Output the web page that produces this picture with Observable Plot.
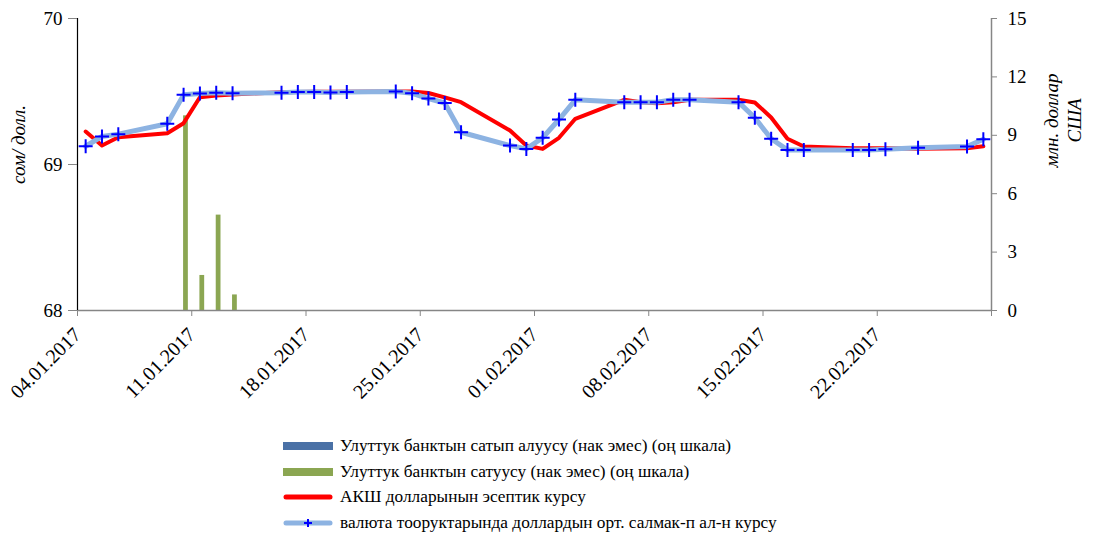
<!DOCTYPE html>
<html><head><meta charset="utf-8">
<script src="https://cdn.jsdelivr.net/npm/d3@7"></script>
<script src="https://cdn.jsdelivr.net/npm/@observablehq/plot@0.6"></script>
<style>
body{margin:0;background:#fff;font-family:"Liberation Serif","Times New Roman",serif;}
#chart{position:relative;width:1094px;height:538px;overflow:hidden;}
#legend{position:absolute;left:283px;top:433px;}
.row{display:flex;align-items:center;height:25.7px;font-size:17.3px;color:#000;white-space:nowrap;}
.row svg{margin-right:7px;flex:none;}
</style></head>
<body>
<div id="chart"><div id="plot"></div><div id="legend"></div></div>
<script>
// ---- data ----
const dates = ["04.01.2017","05.01.2017","06.01.2017","09.01.2017","10.01.2017","11.01.2017","12.01.2017","13.01.2017",
"16.01.2017","17.01.2017","18.01.2017","19.01.2017","20.01.2017","23.01.2017","24.01.2017","25.01.2017","26.01.2017","27.01.2017",
"30.01.2017","31.01.2017","01.02.2017","02.02.2017","03.02.2017","06.02.2017","07.02.2017","08.02.2017","09.02.2017","10.02.2017",
"13.02.2017","14.02.2017","15.02.2017","16.02.2017","17.02.2017","20.02.2017","21.02.2017","22.02.2017","24.02.2017","27.02.2017","28.02.2017"];
const officialRate = [69.226,69.130,69.187,69.214,69.283,69.461,69.473,69.480,
69.495,69.497,69.498,69.498,69.498,69.500,69.500,69.490,69.460,69.427,
69.233,69.130,69.107,69.183,69.313,69.443,69.427,69.420,69.427,69.443,
69.443,69.425,69.322,69.176,69.123,69.112,69.112,69.112,69.108,69.112,69.125];
const marketRate = [69.125,69.192,69.208,69.279,69.477,69.486,69.491,69.488,
69.491,69.497,69.497,69.493,69.497,69.500,69.488,69.452,69.421,69.221,
69.130,69.107,69.183,69.308,69.443,69.427,69.427,69.427,69.443,69.443,
69.427,69.320,69.176,69.100,69.100,69.100,69.100,69.105,69.114,69.123,69.173];
const interventionDates = ["10.01.2017","11.01.2017","12.01.2017","13.01.2017"];
const nbPurchase = [0,0,0,0];
const nbSale = [10.0,1.8,4.9,0.8];
const xTickLabels = ["04.01.2017","11.01.2017","18.01.2017","25.01.2017","01.02.2017","08.02.2017","15.02.2017","22.02.2017","01.03.2017"];
const leftTicks = [68,69,70];
const rightTicks = [0,3,6,9,12,15];
const leftDomain = [68,70];
const rightDomain = [0,15];
const seriesNames = ["Улуттук банктын сатып алуусу (нак эмес) (оң шкала)","Улуттук банктын сатуусу (нак эмес) (оң шкала)","АКШ долларынын эсептик курсу","валюта тооруктарында доллардын орт. салмак-п ал-н курсу"];
const colors = {purchase:"#4A71A6", sale:"#8BA652", official:"#FF0000", market:"#8DB3E2", marker:"#0000FF", axis:"#868686"};

// ---- helpers ----
const parse = s => { const [d,m,y] = s.split(".").map(Number); return new Date(Date.UTC(y, m-1, d)); };
const H = 3600*1000;
const toLeft = v => leftDomain[0] + (v - rightDomain[0]) * (leftDomain[1]-leftDomain[0]) / (rightDomain[1]-rightDomain[0]);
const lines = dates.map((d,i) => ({date: new Date(parse(d).getTime() + 12*H), official: officialRate[i], market: marketRate[i]}));
const sales = interventionDates.map((d,i) => ({d: parse(d), v: nbSale[i]}));
const buys = interventionDates.map((d,i) => ({d: parse(d), v: nbPurchase[i]}));
const xTicks = xTickLabels.map(parse);
const xDomain = [xTicks[0], xTicks[xTicks.length-1]];
const plusSymbol = {draw(ctx, size){ const s = Math.sqrt(size/Math.PI); ctx.moveTo(-s,0); ctx.lineTo(s,0); ctx.moveTo(0,-s); ctx.lineTo(0,s);} };

const chart = Plot.plot({
  width: 1094, height: 425,
  marginLeft: 77, marginRight: 103, marginTop: 18, marginBottom: 115,
  style: {fontFamily: '"Liberation Serif","Times New Roman",serif', fontSize: "19px", color: "#000", background: "#fff", overflow: "visible"},
  x: {type: "utc", domain: xDomain},
  y: {domain: leftDomain},
  marks: [
    Plot.rect(buys, {x1: d => new Date(d.d.getTime()+5*H), x2: d => new Date(d.d.getTime()+12*H), y1: leftDomain[0], y2: d => toLeft(d.v), fill: colors.purchase}),
    Plot.rect(sales, {x1: d => new Date(d.d.getTime()+12*H), x2: d => new Date(d.d.getTime()+19*H), y1: leftDomain[0], y2: d => toLeft(d.v), fill: colors.sale}),
    Plot.line(lines, {x: "date", y: "official", stroke: colors.official, strokeWidth: 4, strokeLinejoin: "round", strokeLinecap: "round"}),
    Plot.line(lines, {x: "date", y: "market", stroke: colors.market, strokeWidth: 5, strokeLinejoin: "round", strokeLinecap: "round"}),
    Plot.dot(lines, {x: "date", y: "market", symbol: plusSymbol, r: 7, stroke: colors.marker, fill: "none", strokeWidth: 2}),
    Plot.ruleY([leftDomain[0]], {stroke: colors.axis, strokeWidth: 1.5}),
    Plot.ruleX([xDomain[0]], {stroke: "#000", strokeWidth: 1.2}),
    Plot.ruleX([xDomain[1]], {stroke: colors.axis, strokeWidth: 1.5}),
    Plot.axisY({anchor: "left", ticks: leftTicks, tickSize: 9, tickPadding: 6, stroke: colors.axis, label: null, fontSize: 19, tickFormat: d => d.toFixed(0)}),
    Plot.axisY({anchor: "right", ticks: rightTicks.map(toLeft), tickSize: 5, tickPadding: 11, stroke: colors.axis, label: null, fontSize: 19,
      tickFormat: v => String(Math.round(rightDomain[0] + (v - leftDomain[0]) * (rightDomain[1]-rightDomain[0]) / (leftDomain[1]-leftDomain[0])))}),
    Plot.axisX({ticks: xTicks, tickSize: 6, tickRotate: -45, tickPadding: 15, stroke: colors.axis, label: null, fontSize: 20,
      tickFormat: d => { const i = xTicks.findIndex(t => +t === +d); return i === xTicks.length-1 ? "" : xTickLabels[i]; }}),
    Plot.text(["сом/ долл."], {frameAnchor: "left", textAnchor: "middle", text: d => d, rotate: -90, dx: -59, dy: -20, fontStyle: "italic", fontSize: 19}),
    Plot.text(["млн. доллар\nСША"], {frameAnchor: "right", textAnchor: "middle", text: d => d, rotate: -90, dx: 71, dy: -44, fontStyle: "italic", fontSize: 19, lineHeight: 1.2, lineAnchor: "middle"})
  ]
});
document.getElementById("plot").appendChild(chart);

// ---- legend ----
const swatches = [
  `<svg width="50" height="12"><rect x="0" y="2" width="50" height="8" fill="${colors.purchase}"/></svg>`,
  `<svg width="50" height="12"><rect x="0" y="2" width="50" height="8" fill="${colors.sale}"/></svg>`,
  `<svg width="50" height="12"><line x1="3" y1="6" x2="47" y2="6" stroke="${colors.official}" stroke-width="5" stroke-linecap="round"/></svg>`,
  `<svg width="50" height="14"><line x1="3" y1="7" x2="47" y2="7" stroke="${colors.market}" stroke-width="5" stroke-linecap="round"/><path d="M21,7H29M25,3V11" stroke="${colors.marker}" stroke-width="2"/></svg>`
];
document.getElementById("legend").innerHTML = seriesNames.map((n,i) => `<div class="row">${swatches[i]}<span>${n}</span></div>`).join("");
</script>
</body></html>
